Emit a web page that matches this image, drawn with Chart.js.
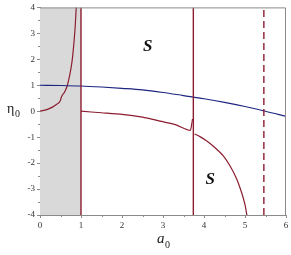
<!DOCTYPE html>
<html>
<head>
<meta charset="utf-8">
<script src="https://cdn.jsdelivr.net/npm/chart.js@4.4.1/dist/chart.umd.min.js"></script>
<style>
  html, body { margin: 0; padding: 0; background: #fff; }
  #wrap { width: 291px; height: 255px; }
</style>
</head>
<body>
<div id="wrap"><canvas id="c"></canvas></div>
<script>
// ── Data ────────────────────────────────────────────────────────────
const xTicks = [0, 1, 2, 3, 4, 5, 6];
const yTicks = [-4, -3, -2, -1, 0, 1, 2, 3, 4];

// shaded strip 0 ≤ a0 ≤ 1
const shadeX = [0, 1];

// blue curve
const blueX = [0, 0.5, 1, 1.5, 2, 2.5, 3, 3.5, 4, 4.5, 5, 5.5, 6];
const blueY = [1, 0.99, 0.97, 0.93, 0.88, 0.82, 0.72, 0.6, 0.48, 0.34, 0.18, 0, -0.2];

// red branch left of a0 = 1
const redAX = [0, 0.2, 0.4, 0.5, 0.52, 0.6, 0.66, 0.72, 0.78, 0.82, 0.86, 0.89];
const redAY = [0, 0.08, 0.26, 0.42, 0.54, 0.74, 0.96, 1.35, 1.9, 2.5, 3.3, 4.2];

// red branch between 1 and 3.75
const redBX = [1, 1.5, 2, 2.5, 2.9, 3.3, 3.66, 3.7, 3.72];
const redBY = [0, -0.06, -0.12, -0.23, -0.37, -0.52, -0.74, -0.5, -0.3];

// red branch right of 3.75
const redCX = [3.77, 3.9, 4.06, 4.25, 4.47, 4.65, 4.8, 4.92, 5.0, 5.05];
const redCY = [-0.88, -0.98, -1.14, -1.38, -1.72, -2.15, -2.62, -3.15, -3.6, -4.05];

// vertical lines
const solidLinesX = [1, 3.74];
const dashedLineX = 5.46;

// region labels
const regionText = ["S", "S"];
const regionX = [2.63, 4.15];
const regionY = [2.5, -2.65];

const RED = "#8c1c30";
const BLUE = "#1c2580";

function pts(xs, ys) { return xs.map((x, i) => ({ x, y: ys[i] })); }
function vline(x) { return [{ x, y: -4 }, { x, y: 4 }]; }

const datasets = [
  {
    data: shadeX.map((x) => ({ x, y: 4 })),
    showLine: true, borderWidth: 0, pointRadius: 0, order: 10,
    backgroundColor: "#d9d9d9", fill: { value: -4 },
  },
  ...solidLinesX.map((x) => ({
    data: vline(x), showLine: true, borderColor: RED, borderWidth: 1.4, pointRadius: 0,
  })),
  {
    data: vline(dashedLineX), showLine: true, borderColor: RED, borderWidth: 1.4,
    borderDash: [7, 4], pointRadius: 0,
  },
  {
    data: pts(blueX, blueY), showLine: true, borderColor: BLUE, borderWidth: 1.1,
    pointRadius: 0, cubicInterpolationMode: "monotone",
  },
  {
    data: pts(redAX, redAY), showLine: true, borderColor: RED, borderWidth: 1.2,
    pointRadius: 0, cubicInterpolationMode: "monotone",
  },
  {
    data: pts(redBX, redBY), showLine: true, borderColor: RED, borderWidth: 1.2,
    pointRadius: 0, tension: 0.2,
  },
  {
    data: pts(redCX, redCY), showLine: true, borderColor: RED, borderWidth: 1.2,
    pointRadius: 0, tension: 0.3,
  },
];

// frame, minor ticks, region labels and the subscripted axis titles
const decor = {
  id: "decor",
  afterDraw(chart) {
    const { ctx, chartArea: a, scales } = chart;
    const xs = scales.x, ys = scales.y;
    ctx.save();
    ctx.strokeStyle = "#8a8a8a";
    ctx.lineWidth = 1;
    ctx.beginPath();
    ctx.moveTo(a.left, a.top + 0.5); ctx.lineTo(a.right - 0.5, a.top + 0.5);
    ctx.lineTo(a.right - 0.5, a.bottom);
    // minor ticks
    for (let v = 0.5; v < 6; v += 1) {
      const px = Math.round(xs.getPixelForValue(v)) + 0.5;
      ctx.moveTo(px, a.bottom); ctx.lineTo(px, a.bottom + 2);
    }
    for (let v = -3.5; v < 4; v += 1) {
      const py = Math.round(ys.getPixelForValue(v)) + 0.5;
      ctx.moveTo(a.left, py); ctx.lineTo(a.left - 2, py);
    }
    ctx.stroke();
    // region labels
    ctx.fillStyle = "#111";
    ctx.font = "bold italic 17px 'Liberation Serif', serif";
    ctx.textAlign = "center";
    ctx.textBaseline = "middle";
    regionText.forEach((t, i) => {
      ctx.fillText(t, xs.getPixelForValue(regionX[i]), ys.getPixelForValue(regionY[i]));
    });
    // y title: eta_0
    ctx.fillStyle = "#222";
    ctx.textAlign = "left";
    ctx.textBaseline = "alphabetic";
    ctx.font = "14px 'Liberation Serif', serif";
    const y0 = ys.getPixelForValue(0);
    ctx.fillText("\u03b7", 7, y0 + 2);
    ctx.font = "10px 'Liberation Serif', serif";
    ctx.fillText("0", 15, y0 + 6);
    // x title: a_0
    ctx.font = "italic 15px 'Liberation Serif', serif";
    const xc = (a.left + a.right) / 2;
    ctx.fillText("a", xc - 6, 243);
    ctx.font = "10px 'Liberation Serif', serif";
    ctx.fillText("0", xc + 2, 248);
    ctx.restore();
  },
};

new Chart(document.getElementById("c"), {
  type: "scatter",
  data: { datasets },
  options: {
    responsive: true,
    maintainAspectRatio: false,
    animation: false,
    events: [],
    layout: { padding: { top: 6, right: 5, left: 0, bottom: 0 } },
    plugins: { legend: { display: false }, tooltip: { enabled: false } },
    scales: {
      x: {
        type: "linear", min: 0, max: 6,
        afterBuildTicks: (s) => { s.ticks = xTicks.map((v) => ({ value: v })); },
        afterFit: (s) => { s.height = 40; },
        ticks: { color: "#333", font: { family: "'Liberation Serif', serif", size: 9 }, padding: 2, maxRotation: 0 },
        grid: { drawOnChartArea: false, tickLength: 3, color: "#8a8a8a" },
        border: { color: "#8a8a8a" },
      },
      y: {
        type: "linear", min: -4, max: 4,
        afterBuildTicks: (s) => { s.ticks = yTicks.map((v) => ({ value: v })); },
        afterFit: (s) => { s.width = 40; },
        ticks: { color: "#333", font: { family: "'Liberation Serif', serif", size: 9 }, padding: 2 },
        grid: { drawOnChartArea: false, tickLength: 3, color: "#8a8a8a" },
        border: { color: "#8a8a8a" },
      },
    },
  },
  plugins: [decor],
});
</script>
</body>
</html>
